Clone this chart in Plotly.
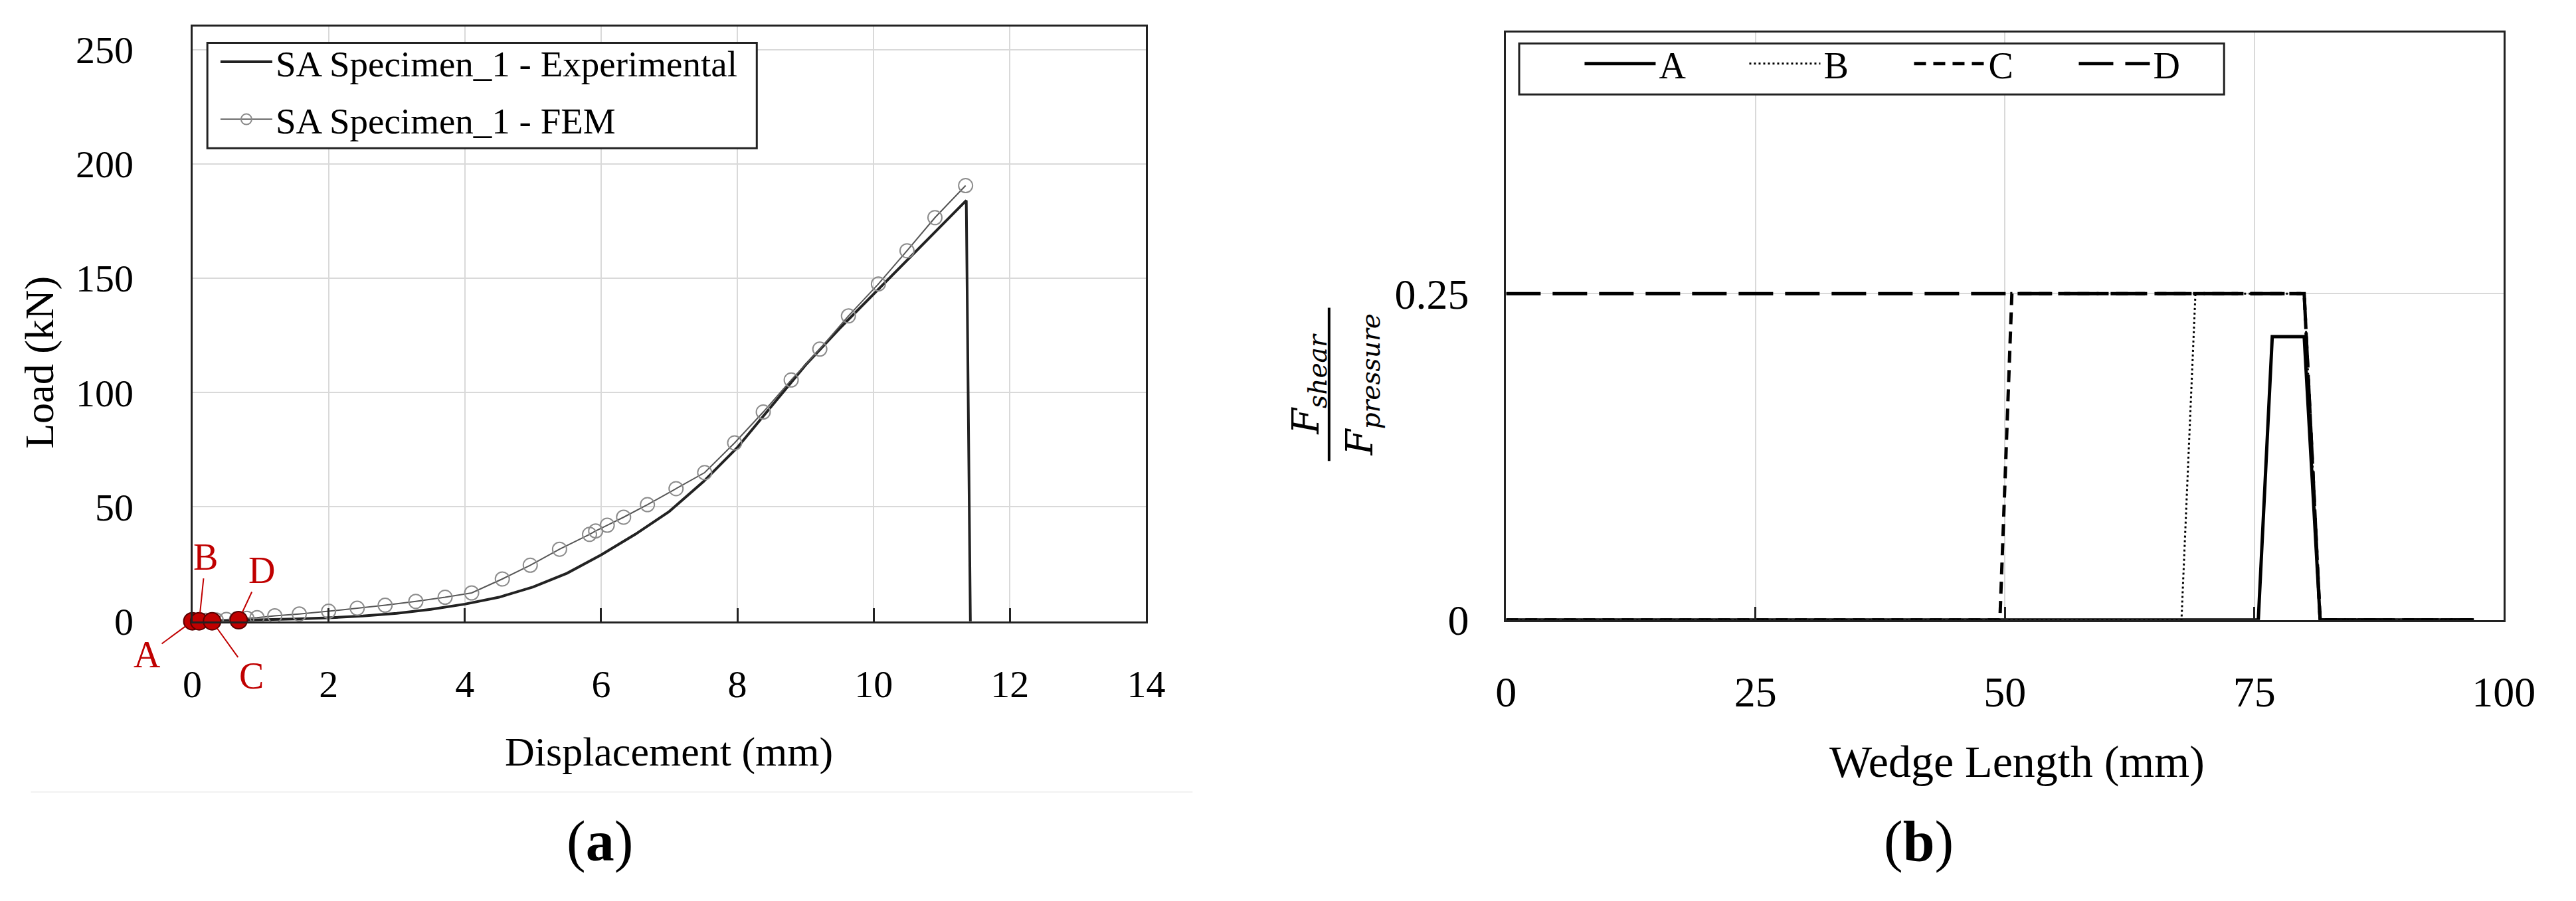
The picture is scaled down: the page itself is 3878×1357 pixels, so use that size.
import plotly.graph_objects as go

W, H = 3878, 1357
def px(x): return x / W
def py(y): return 1 - y / H

FONT = "Liberation Serif"

# ---------- (a) Load vs displacement ----------
exp_x = [0, 0.5, 1, 1.5, 2, 2.5, 3, 3.5, 4, 4.5, 5, 5.5, 6, 6.5, 7, 7.5, 8, 8.5, 9, 9.5, 10, 10.5, 11, 11.3, 11.36, 11.42]
exp_y = [0, 0.3, 0.6, 1.0, 1.5, 2.3, 3.5, 5.2, 7.5, 10.5, 15, 21, 29, 38, 48, 61, 76, 94, 112, 128, 143, 158, 173, 182, 184, 0]

fem_x = [0, 0.1, 0.2, 0.35, 0.5, 0.65, 0.8, 0.95, 1.21, 1.57, 2.0, 2.42, 2.83, 3.28, 3.71, 4.1, 4.55, 4.96, 5.39,
         5.83, 5.92, 6.09, 6.33, 6.68, 7.1, 7.52, 7.96, 8.38, 8.79, 9.21, 9.63, 10.07, 10.49, 10.9, 11.35]
fem_y = [0, 0.2, 0.4, 0.6, 0.8, 1.0, 1.3, 1.6, 2.4, 3.2, 4.4, 5.7, 7.0, 8.7, 10.5, 12.4, 18.5, 24.5, 31.5,
         38, 39.5, 42, 45.5, 51, 58, 65, 78, 91.5, 105.5, 119, 133.5, 147.5, 162, 176.5, 190.5]

pt_labels = ["A", "B", "C", "D"]
pt_x = [0.0, 0.1, 0.29, 0.68]
pt_y = [0, 0, 0, 0.5]
# label offsets (px) for the point callouts
pt_ax = [-68, 10, 59, 35]
pt_ay = [50, -97, 82, -75]

x1_ticks = [0, 2, 4, 6, 8, 10, 12, 14]
y1_ticks = [0, 50, 100, 150, 200, 250]

# ---------- (b) Fshear/Fpressure vs wedge length ----------
A_x = [0, 75.4, 76.8, 80.0, 81.6, 97]
A_y = [0, 0, 0.217, 0.217, 0, 0]
B_x = [0, 67.7, 69.1, 80.0, 81.6, 97]
B_y = [0, 0, 0.25, 0.25, 0, 0]
C_x = [0, 49.5, 50.7, 80.0, 81.6, 97]
C_y = [0, 0, 0.25, 0.25, 0, 0]
D_x = [0, 80.0, 81.6, 97]
D_y = [0.25, 0.25, 0, 0]

x2_ticks = [0, 25, 50, 75, 100]
y2_ticks = [0, 0.25]
y2_text = ["0", "0.25"]

fig = go.Figure()

fig.add_trace(go.Scatter(x=exp_x, y=exp_y, mode="lines", name="SA Specimen_1 - Experimental",
                         line=dict(color="#222222", width=4), xaxis="x", yaxis="y",
                         legend="legend", legendgroup="e"))
fig.add_trace(go.Scatter(x=fem_x, y=fem_y, mode="lines+markers", name="SA Specimen_1 - FEM",
                         line=dict(color="#555555", width=2),
                         marker=dict(symbol="circle-open", size=21, color="#8c8c8c", line=dict(width=2)),
                         xaxis="x", yaxis="y", legend="legend", legendgroup="f"))
fig.add_trace(go.Scatter(x=pt_x, y=pt_y, mode="markers", showlegend=False, cliponaxis=False,
                         marker=dict(size=26, color="#c00000", line=dict(color="#5a0000", width=2)),
                         xaxis="x", yaxis="y"))

series = [("A", A_x, A_y, "solid", 5), ("B", B_x, B_y, "3px,4px", 3),
          ("C", C_x, C_y, "18px,11px", 5), ("D", D_x, D_y, "52px,18px", 5)]
for name, xs, ys, dash, w in series:
    fig.add_trace(go.Scatter(x=xs, y=ys, mode="lines", name=name, cliponaxis=False,
                             line=dict(color="black", width=w, dash=dash),
                             xaxis="x2", yaxis="y2", legend="legend2"))

axis_common = dict(showline=True, mirror=True, linecolor="#222222", linewidth=3,
                   gridcolor="#d9d9d9", gridwidth=2, zeroline=False)
f_left = dict(family=FONT, size=58, color="black")
f_right = dict(family=FONT, size=64, color="black")

fig.update_layout(
    width=W, height=H, margin=dict(l=0, r=0, t=0, b=0),
    paper_bgcolor="white", plot_bgcolor="white",
    font=dict(family=FONT, color="black"),
    xaxis=dict(domain=[px(270), px(1730)], range=[0, 14], tickvals=x1_ticks, ticks="inside",
               ticklen=20, tickwidth=3, tickcolor="#222222", ticklabelstandoff=42, anchor="y",
               tickfont=f_left, **axis_common),
    yaxis=dict(domain=[py(953), py(33)], range=[0, 260], tickvals=y1_ticks, ticks="",
               ticklabelstandoff=74, anchor="x", tickfont=f_left, **axis_common),
    xaxis2=dict(domain=[px(2281), px(3808)], range=[0, 100], tickvals=x2_ticks, ticks="inside",
                ticklen=20, tickwidth=3, tickcolor="#222222", ticklabelstandoff=50, anchor="y2",
                tickfont=f_right, **axis_common),
    yaxis2=dict(domain=[py(951), py(42)], range=[0, 0.45], tickvals=y2_ticks, ticktext=y2_text, ticks="",
                ticklabelstandoff=40, anchor="x2", tickfont=f_right, **axis_common),
    legend=dict(x=px(308), y=py(44), xanchor="left", yanchor="top", bgcolor="rgba(0,0,0,0)",
                borderwidth=0, font=dict(family=FONT, size=55),
                itemwidth=78, tracegroupgap=12),
    legend2=dict(orientation="h", x=px(2396), y=py(46), xanchor="left", yanchor="top",
                 bgcolor="rgba(0,0,0,0)", borderwidth=0, font=dict(family=FONT, size=56),
                 itemwidth=107, entrywidth=126),
    showlegend=True,
)

ann = []
for lab, x, y, ax, ay in zip(pt_labels, pt_x, pt_y, pt_ax, pt_ay):
    ann.append(dict(x=x, y=y, xref="x", yref="y", text=lab, showarrow=True, arrowhead=0,
                    arrowwidth=2, arrowcolor="#c00000", ax=ax, ay=ay, standoff=13,
                    font=dict(family=FONT, size=56, color="#c00000")))

ann += [
    dict(x=px(1000), y=py(1155), xref="paper", yref="paper", text="Displacement (mm)", showarrow=False,
         font=dict(family=FONT, size=62), xanchor="center", yanchor="middle"),
    dict(x=px(36), y=py(552), xref="paper", yref="paper", text="Load (kN)", showarrow=False, textangle=-90,
         font=dict(family=FONT, size=62), xanchor="center", yanchor="middle"),
    dict(x=px(3063), y=py(1170), xref="paper", yref="paper", text="Wedge Length (mm)", showarrow=False,
         font=dict(family=FONT, size=68), xanchor="center", yanchor="middle"),
    dict(x=px(1978), y=py(586), xref="paper", yref="paper", text="<i>F</i><sub><i>shear</i></sub>",
         showarrow=False, textangle=-90, font=dict(family="DejaVu Serif", size=56),
         xanchor="center", yanchor="middle"),
    dict(x=px(2060), y=py(587), xref="paper", yref="paper", text="<i>F</i><sub><i>pressure</i></sub>",
         showarrow=False, textangle=-90, font=dict(family="DejaVu Serif", size=56),
         xanchor="center", yanchor="middle"),
    dict(x=px(894), y=py(1293), xref="paper", yref="paper", text="(<b>a</b>)", showarrow=False,
         font=dict(family=FONT, size=86), xanchor="center", yanchor="middle"),
    dict(x=px(2913), y=py(1293), xref="paper", yref="paper", text="(<b>b</b>)", showarrow=False,
         font=dict(family=FONT, size=86), xanchor="center", yanchor="middle"),
]
fig.update_layout(annotations=ann)

fig.update_layout(shapes=[
    # legend frames
    dict(type="rect", xref="paper", yref="paper", x0=px(293), x1=px(1134), y0=py(221), y1=py(58),
         line=dict(color="#222222", width=3), fillcolor="white", layer="above"),
    dict(type="rect", xref="paper", yref="paper", x0=px(2301), x1=px(3380), y0=py(138), y1=py(59),
         line=dict(color="#222222", width=3), fillcolor="white", layer="above"),
    # fraction bar of the y-axis title
    dict(type="line", xref="paper", yref="paper", x0=px(2010), x1=px(2010), y0=py(468), y1=py(705),
         line=dict(color="black", width=4)),
    # faint separator under panel (a)
    dict(type="line", xref="paper", yref="paper", x0=px(23), x1=px(1801), y0=py(1217), y1=py(1217),
         line=dict(color="#f0f0f0", width=2)),
])

fig.write_html("out.html")
